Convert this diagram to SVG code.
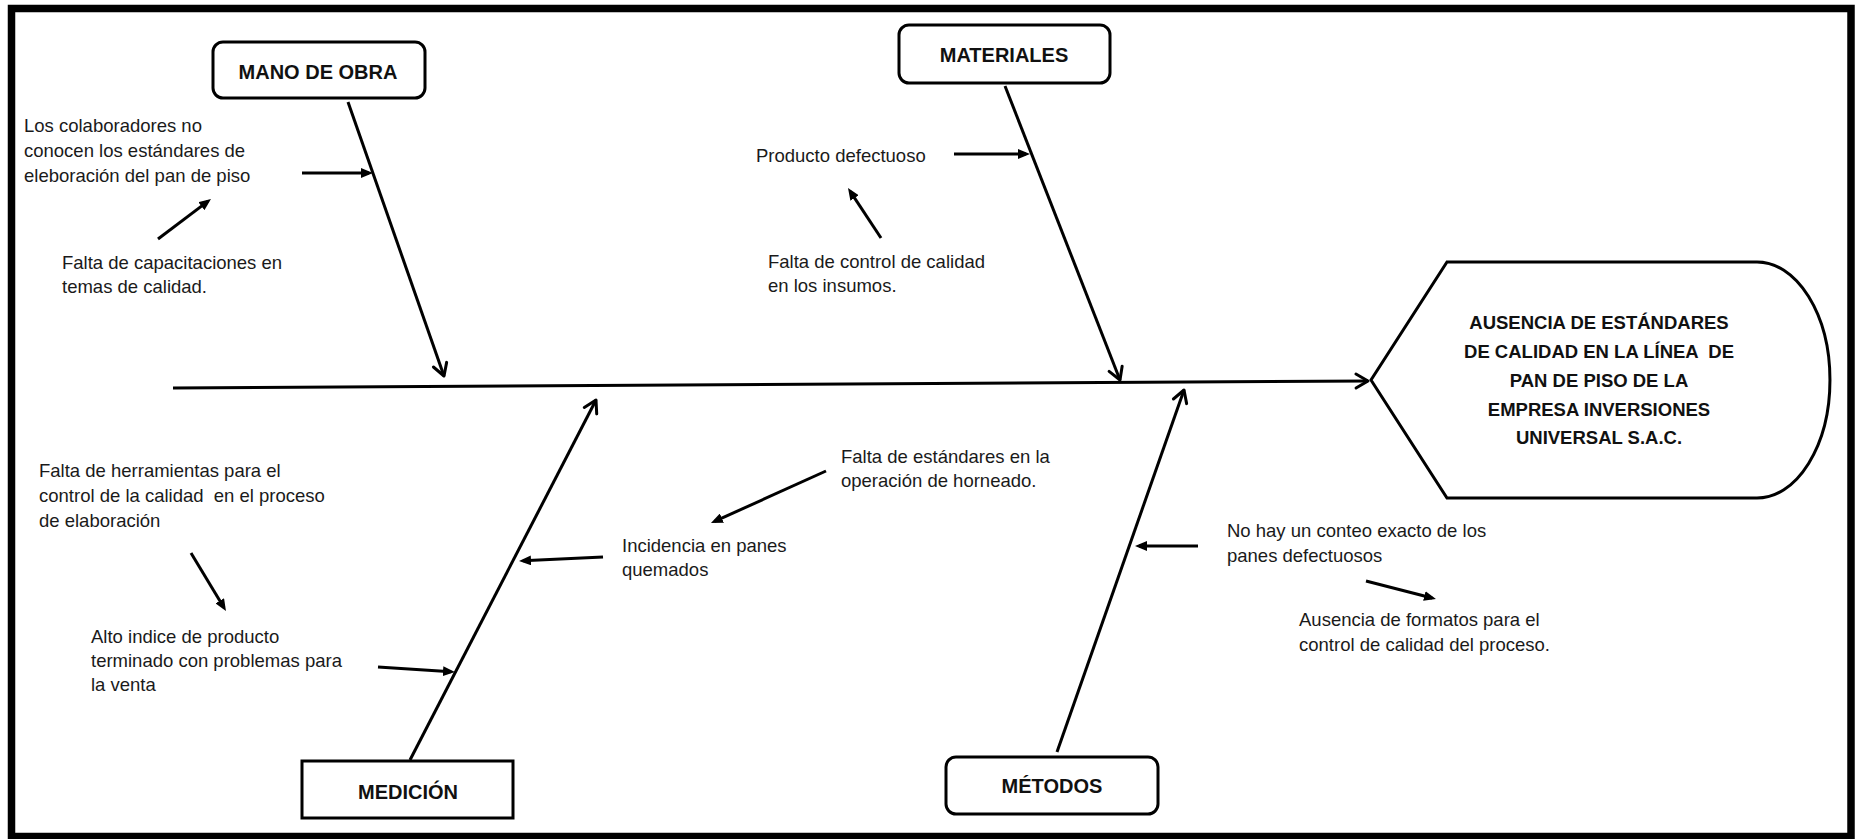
<svg xmlns="http://www.w3.org/2000/svg" width="1856" height="839" viewBox="0 0 1856 839">
  <style>
    .frame { fill: #ffffff; stroke: #000000; stroke-width: 7.5; }
    .box { fill: #ffffff; stroke: #000000; stroke-width: 3; }
    .bone { fill: none; stroke: #000000; stroke-width: 3; stroke-linecap: butt; }
    .sub { fill: none; stroke: #000000; stroke-width: 3; }
    .head { font-family: "Liberation Sans", Arial, sans-serif; font-weight: bold; font-size: 20px; fill: #111111; text-anchor: middle; }
    .effect { font-family: "Liberation Sans", Arial, sans-serif; font-weight: bold; font-size: 18.5px; fill: #111111; text-anchor: middle; white-space: pre; }
    .cause { font-family: "Liberation Sans", Arial, sans-serif; font-size: 18.5px; fill: #1a1a1a; white-space: pre; }
  </style>
  <defs>
    <!-- open V head used on the spine and the category bones -->
    <marker id="open" markerUnits="userSpaceOnUse" markerWidth="20" markerHeight="20" viewBox="0 0 20 20" refX="16" refY="10" orient="auto">
      <path d="M4,3 L16,10 L4,17" fill="none" stroke="#000000" stroke-width="3" stroke-linecap="round" stroke-linejoin="round"/>
    </marker>
    <!-- small solid head used on the cause arrows -->
    <marker id="solid" markerUnits="userSpaceOnUse" markerWidth="12" markerHeight="10" viewBox="0 0 12 10" refX="8" refY="5" orient="auto">
      <path d="M0,0 L12,5 L0,10 Z" fill="#000000"/>
    </marker>
  </defs>

  <rect class="frame" x="11.5" y="8.5" width="1839.5" height="828"/>

  <g id="connectors">
    <!-- spine -->
    <line class="bone" x1="173" y1="388" x2="1368" y2="381" marker-end="url(#open)"/>
    <!-- category bones -->
    <line class="bone" x1="348" y1="102" x2="444" y2="376" marker-end="url(#open)"/>
    <line class="bone" x1="1005" y1="86" x2="1120" y2="380" marker-end="url(#open)"/>
    <line class="bone" x1="410" y1="760" x2="596" y2="400" marker-end="url(#open)"/>
    <line class="bone" x1="1057" y1="752" x2="1184" y2="390" marker-end="url(#open)"/>
    <!-- cause arrows -->
    <line class="sub" x1="302" y1="173" x2="369" y2="173" marker-end="url(#solid)"/>
    <line class="sub" x1="158" y1="239" x2="207.8" y2="201.4" marker-end="url(#solid)"/>
    <line class="sub" x1="881" y1="238" x2="850.2" y2="191.3" marker-end="url(#solid)"/>
    <line class="sub" x1="954" y1="154" x2="1026" y2="154" marker-end="url(#solid)"/>
    <line class="sub" x1="826" y1="471" x2="714.6" y2="521.4" marker-end="url(#solid)"/>
    <line class="sub" x1="603" y1="557" x2="523" y2="560.8" marker-end="url(#solid)"/>
    <line class="sub" x1="191" y1="553" x2="223.9" y2="607.6" marker-end="url(#solid)"/>
    <line class="sub" x1="378" y1="667" x2="451" y2="671.7" marker-end="url(#solid)"/>
    <line class="sub" x1="1198" y1="546" x2="1139" y2="546" marker-end="url(#solid)"/>
    <line class="sub" x1="1366" y1="581" x2="1432.1" y2="598" marker-end="url(#solid)"/>
  </g>

  <g id="effect">
    <path class="box" d="M1447,262 L1757,262 A73,118 0 0 1 1757,498 L1447,498 L1371,380 Z"/>
    <text class="effect" x="1599" y="329">AUSENCIA DE ESTÁNDARES</text>
    <text class="effect" x="1599" y="358">DE CALIDAD EN LA LÍNEA  DE</text>
    <text class="effect" x="1599" y="387">PAN DE PISO DE LA</text>
    <text class="effect" x="1599" y="415.5">EMPRESA INVERSIONES</text>
    <text class="effect" x="1599" y="444">UNIVERSAL S.A.C.</text>
  </g>

  <g id="mano-de-obra">
    <rect class="box" x="213" y="42" width="212" height="56" rx="10" ry="10"/>
    <text class="head" x="318" y="79">MANO DE OBRA</text>
  </g>
  <g id="materiales">
    <rect class="box" x="899" y="25" width="211" height="58" rx="10" ry="10"/>
    <text class="head" x="1004" y="62">MATERIALES</text>
  </g>
  <g id="medicion">
    <rect class="box" x="302" y="761" width="211" height="57"/>
    <text class="head" x="408" y="799">MEDICIÓN</text>
  </g>
  <g id="metodos">
    <rect class="box" x="946" y="757" width="212" height="57" rx="10" ry="10"/>
    <text class="head" x="1052" y="793">MÉTODOS</text>
  </g>

  <g id="cause-colaboradores">
    <text class="cause" x="24" y="132">Los colaboradores no</text>
    <text class="cause" x="24" y="157">conocen los estándares de</text>
    <text class="cause" x="24" y="182">eleboración del pan de piso</text>
  </g>
  <g id="cause-capacitaciones">
    <text class="cause" x="62" y="269">Falta de capacitaciones en</text>
    <text class="cause" x="62" y="293">temas de calidad.</text>
  </g>
  <g id="cause-producto">
    <text class="cause" x="756" y="162">Producto defectuoso</text>
  </g>
  <g id="cause-insumos">
    <text class="cause" x="768" y="268">Falta de control de calidad</text>
    <text class="cause" x="768" y="292">en los insumos.</text>
  </g>
  <g id="cause-herramientas">
    <text class="cause" x="39" y="477">Falta de herramientas para el</text>
    <text class="cause" x="39" y="502">control de la calidad  en el proceso</text>
    <text class="cause" x="39" y="527">de elaboración</text>
  </g>
  <g id="cause-alto-indice">
    <text class="cause" x="91" y="643">Alto indice de producto</text>
    <text class="cause" x="91" y="667">terminado con problemas para</text>
    <text class="cause" x="91" y="691">la venta</text>
  </g>
  <g id="cause-incidencia">
    <text class="cause" x="622" y="552">Incidencia en panes</text>
    <text class="cause" x="622" y="576">quemados</text>
  </g>
  <g id="cause-horneado">
    <text class="cause" x="841" y="463">Falta de estándares en la</text>
    <text class="cause" x="841" y="487">operación de horneado.</text>
  </g>
  <g id="cause-conteo">
    <text class="cause" x="1227" y="537">No hay un conteo exacto de los</text>
    <text class="cause" x="1227" y="562">panes defectuosos</text>
  </g>
  <g id="cause-formatos">
    <text class="cause" x="1299" y="626">Ausencia de formatos para el</text>
    <text class="cause" x="1299" y="651">control de calidad del proceso.</text>
  </g>
</svg>
